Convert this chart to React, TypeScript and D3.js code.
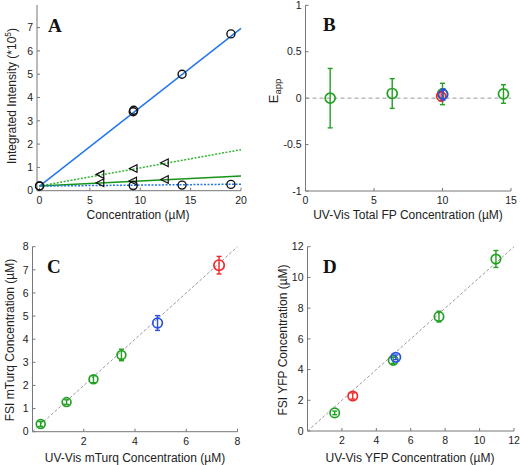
import React from "react";
import * as d3 from "d3";

// ---------- Panel A data ----------
const aBrightX = [0, 9.3, 9.35, 14.15, 19.0];
const aBrightY = [0.2, 3.39, 3.45, 5.0, 6.73];
const aBrightFit = [0.2, 6.97];
const aDimX = [0, 9.3, 14.15, 19.0];
const aDimY = [0.2, 0.22, 0.24, 0.27];
const aDimFit = [0.2, 0.28];
const aTriDotX = [6.0, 9.3, 12.4];
const aTriDotY = [0.7, 0.95, 1.2];
const aTriDotFit = [0.2, 1.76];
const aTriSolidX = [6.0, 9.25, 12.4];
const aTriSolidY = [0.34, 0.42, 0.48];
const aTriSolidFit = [0.2, 0.63];
const aFitX = [0, 20];
const aXTicks = [0, 5, 10, 15, 20];
const aYTicks = [0, 1, 2, 3, 4, 5, 6, 7];

// ---------- Panel B data ----------
const bGreenX = [1.8, 6.33, 10.0, 14.45];
const bGreenY = [0.0, 0.05, 0.045, 0.045];
const bGreenErr = [0.32, 0.16, 0.115, 0.1];
const bRedX = [9.9];
const bRedY = [0.02];
const bRedErr = [0.05];
const bBlueX = [10.05];
const bBlueY = [0.04];
const bBlueErr = [0.06];
const bXTicks = [0, 5, 10, 15];
const bYTicks = [-1, -0.5, 0, 0.5, 1];

// ---------- Panel C data ----------
const cGreenX = [0.32, 1.33, 2.38, 3.47];
const cGreenY = [0.33, 1.28, 2.27, 3.32];
const cGreenErr = [0.1, 0.1, 0.15, 0.25];
const cBlueX = [4.88];
const cBlueY = [4.7];
const cBlueErr = [0.32];
const cRedX = [7.28];
const cRedY = [7.2];
const cRedErr = [0.38];
const cXTicks = [2, 4, 6, 8];
const cYTicks = [0, 1, 2, 3, 4, 5, 6, 7, 8];

// ---------- Panel D data ----------
const dGreenX = [1.58, 4.98, 7.64, 10.95];
const dGreenY = [1.18, 4.6, 7.45, 11.2];
const dGreenErr = [0.12, 0.2, 0.35, 0.55];
const dRedX = [2.63];
const dRedY = [2.28];
const dRedErr = [0.2];
const dBlueX = [5.13];
const dBlueY = [4.8];
const dBlueErr = [0.15];
const dXTicks = [2, 4, 6, 8, 10, 12];
const dYTicks = [0, 2, 4, 6, 8, 10, 12];

const GREEN = "#23a023";
const RED = "#ee2a2a";
const BLUE = "#2a4ee0";
const AXIS = "#777";
const TXT = "#222";
const FONT = "'Liberation Sans', Arial, sans-serif";
const SERIF = "'Liberation Serif', 'Times New Roman', serif";

type Scale = d3.ScaleLinear<number, number>;

function Axes({ x, y, xTicks, yTicks }: { x: Scale; y: Scale; xTicks: number[]; yTicks: number[] }) {
  const [x0, x1] = x.range();
  const [y0, y1] = y.range();
  return (
    <g>
      <line x1={x0} x2={x1} y1={y0} y2={y0} stroke={AXIS} strokeWidth={1} />
      <line x1={x0} x2={x0} y1={y0} y2={y1} stroke={AXIS} strokeWidth={1} />
      {xTicks.map((t) => (
        <g key={"x" + t}>
          <line x1={x(t)} x2={x(t)} y1={y0} y2={y0 - 3} stroke={AXIS} />
          <text x={x(t)} y={y0 + 13} textAnchor="middle" fontSize={10.5} fill={TXT} fontFamily={FONT}>{String(t)}</text>
        </g>
      ))}
      {yTicks.map((t) => (
        <g key={"y" + t}>
          <line x1={x0} x2={x0 + 3} y1={y(t)} y2={y(t)} stroke={AXIS} />
          <text x={x0 - 4} y={y(t) + 3.7} textAnchor="end" fontSize={10.5} fill={TXT} fontFamily={FONT}>{String(t)}</text>
        </g>
      ))}
    </g>
  );
}

function ErrPoints({ x, y, xs, ys, errs, color, r = 4.5 }: { x: Scale; y: Scale; xs: number[]; ys: number[]; errs: number[]; color: string; r?: number }) {
  return (
    <g>
      {xs.map((v, i) => {
        const cx = x(v);
        const top = y(ys[i] + errs[i]);
        const bot = y(ys[i] - errs[i]);
        return (
          <g key={i}>
            <line x1={cx} x2={cx} y1={top} y2={bot} stroke={color} strokeWidth={1.4} />
            <line x1={cx - 2.5} x2={cx + 2.5} y1={top} y2={top} stroke={color} strokeWidth={1.4} />
            <line x1={cx - 2.5} x2={cx + 2.5} y1={bot} y2={bot} stroke={color} strokeWidth={1.4} />
            <circle cx={cx} cy={y(ys[i])} r={r} fill="none" stroke={color} strokeWidth={1.7} />
          </g>
        );
      })}
    </g>
  );
}

function PanelA() {
  const x = d3.scaleLinear().domain([-0.25, 20]).range([37, 241]);
  const y = d3.scaleLinear().domain([0, 7.97]).range([190.7, 5]);
  const line = d3.line<number>().x((_, i) => x(aFitX[i])).y((d) => y(d));
  const tri = (cx: number, cy: number) => {
    const s = 3.8;
    return `M${cx - s},${cy} L${cx + s},${cy - s} L${cx + s},${cy + s} Z`;
  };
  return (
    <g>
      <Axes x={x} y={y} xTicks={aXTicks} yTicks={aYTicks} />
      <path d={line(aBrightFit) || ""} stroke="#2277ee" strokeWidth={1.5} fill="none" />
      <path d={line(aTriDotFit) || ""} stroke="#33b533" strokeWidth={1.5} strokeDasharray="2,1.5" fill="none" />
      <path d={line(aTriSolidFit) || ""} stroke="#169416" strokeWidth={1.5} fill="none" />
      <path d={line(aDimFit) || ""} stroke="#2277ee" strokeWidth={1.5} strokeDasharray="2,1.5" fill="none" />
      {aBrightX.map((v, i) => (
        <circle key={"b" + i} cx={x(v)} cy={y(aBrightY[i])} r={4} fill="none" stroke="#111" strokeWidth={1.4} />
      ))}
      {aDimX.map((v, i) => (
        <circle key={"d" + i} cx={x(v)} cy={y(aDimY[i])} r={4} fill="none" stroke="#111" strokeWidth={1.4} />
      ))}
      {aTriDotX.map((v, i) => (
        <path key={"t" + i} d={tri(x(v), y(aTriDotY[i]))} fill="none" stroke="#111" strokeWidth={1.2} />
      ))}
      {aTriSolidX.map((v, i) => (
        <path key={"s" + i} d={tri(x(v), y(aTriSolidY[i]))} fill="none" stroke="#111" strokeWidth={1.2} />
      ))}
      <text x={48} y={31.5} fontFamily={SERIF} fontWeight="bold" fontSize={19} fill="#111">A</text>
      <text x={138} y={219} textAnchor="middle" fontSize={12} fill={TXT} fontFamily={FONT}>Concentration (µM)</text>
      <text transform="translate(16,96) rotate(-90)" textAnchor="middle" fontSize={12} fill={TXT} fontFamily={FONT}>
        Integrated Intensity (*10<tspan dy={-5} fontSize={8.5}>5</tspan><tspan dy={5}>)</tspan>
      </text>
    </g>
  );
}

function PanelB() {
  const x = d3.scaleLinear().domain([0, 15]).range([305.5, 511]);
  const y = d3.scaleLinear().domain([-1, 1]).range([191, 5.3]);
  return (
    <g>
      <Axes x={x} y={y} xTicks={bXTicks} yTicks={bYTicks} />
      <line x1={x(0)} x2={x(15)} y1={y(0)} y2={y(0)} stroke="#999" strokeWidth={1} strokeDasharray="4,3" />
      <ErrPoints x={x} y={y} xs={bGreenX} ys={bGreenY} errs={bGreenErr} color={GREEN} r={5} />
      <ErrPoints x={x} y={y} xs={bRedX} ys={bRedY} errs={bRedErr} color={RED} r={4.5} />
      <ErrPoints x={x} y={y} xs={bBlueX} ys={bBlueY} errs={bBlueErr} color={BLUE} r={4.5} />
      <text x={323} y={31} fontFamily={SERIF} fontWeight="bold" fontSize={19} fill="#111">B</text>
      <text x={408} y={219} textAnchor="middle" fontSize={12} fill={TXT} fontFamily={FONT}>UV-Vis Total FP Concentration (µM)</text>
      <text transform="translate(278,91) rotate(-90)" textAnchor="middle" fontSize={13} fill={TXT} fontFamily={FONT}>
        E<tspan dy={3} fontSize={9.5}>app</tspan>
      </text>
    </g>
  );
}

function PanelC() {
  const x = d3.scaleLinear().domain([0, 8]).range([32.5, 237.5]);
  const y = d3.scaleLinear().domain([0, 8]).range([431.7, 246.7]);
  return (
    <g>
      <Axes x={x} y={y} xTicks={cXTicks} yTicks={cYTicks} />
      <line x1={x(0)} y1={y(0)} x2={x(8)} y2={y(8)} stroke="#999" strokeWidth={1} strokeDasharray="3,2" />
      <ErrPoints x={x} y={y} xs={cGreenX} ys={cGreenY} errs={cGreenErr} color={GREEN} r={4.4} />
      <ErrPoints x={x} y={y} xs={cBlueX} ys={cBlueY} errs={cBlueErr} color={BLUE} r={4.8} />
      <ErrPoints x={x} y={y} xs={cRedX} ys={cRedY} errs={cRedErr} color={RED} r={5.2} />
      <text x={47} y={272.5} fontFamily={SERIF} fontWeight="bold" fontSize={19} fill="#111">C</text>
      <text x={135} y={462} textAnchor="middle" fontSize={12} fill={TXT} fontFamily={FONT}>UV-Vis mTurq Concentration (µM)</text>
      <text transform="translate(14,340) rotate(-90)" textAnchor="middle" fontSize={12} fill={TXT} fontFamily={FONT}>FSI mTurq Concentration (µM)</text>
    </g>
  );
}

function PanelD() {
  const x = d3.scaleLinear().domain([0, 12]).range([307.5, 514]);
  const y = d3.scaleLinear().domain([0, 12]).range([431, 246.7]);
  return (
    <g>
      <Axes x={x} y={y} xTicks={dXTicks} yTicks={dYTicks} />
      <line x1={x(0)} y1={y(0)} x2={x(12)} y2={y(12)} stroke="#999" strokeWidth={1} strokeDasharray="3,2" />
      <ErrPoints x={x} y={y} xs={dGreenX} ys={dGreenY} errs={dGreenErr} color={GREEN} r={4.7} />
      <ErrPoints x={x} y={y} xs={dRedX} ys={dRedY} errs={dRedErr} color={RED} r={4.7} />
      <ErrPoints x={x} y={y} xs={dBlueX} ys={dBlueY} errs={dBlueErr} color={BLUE} r={4.7} />
      <text x={323} y={272.5} fontFamily={SERIF} fontWeight="bold" fontSize={19} fill="#111">D</text>
      <text x={410} y={462} textAnchor="middle" fontSize={12} fill={TXT} fontFamily={FONT}>UV-Vis YFP Concentration (µM)</text>
      <text transform="translate(287,340) rotate(-90)" textAnchor="middle" fontSize={12} fill={TXT} fontFamily={FONT}>FSI YFP Concentration (µM)</text>
    </g>
  );
}

export default function App() {
  return (
    <svg width={520} height={465} style={{ position: "absolute", left: 0, top: 0, background: "#fff" }}>
      <rect width={520} height={465} fill="#fff" />
      <PanelA />
      <PanelB />
      <PanelC />
      <PanelD />
    </svg>
  );
}
